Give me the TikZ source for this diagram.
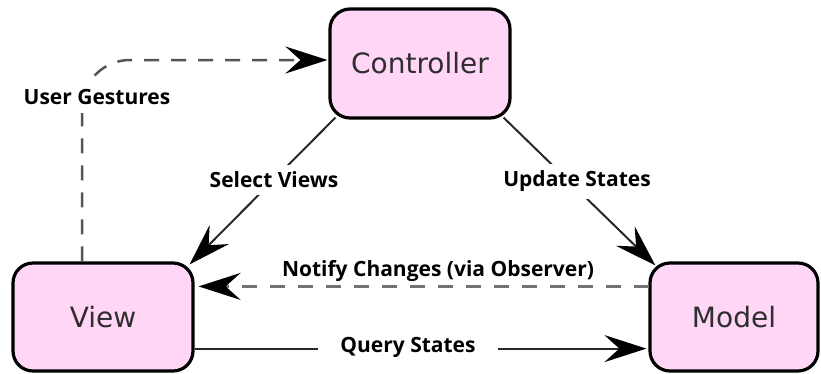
\documentclass[tikz,border=0pt]{standalone}
\usepackage{fontspec}
\usetikzlibrary{arrows.meta,calc}
\newfontfamily\boxfont{DejaVu Sans}
\newfontfamily\labfont{Open Sans}
\definecolor{boxpink}{RGB}{255,214,245}
\definecolor{inkgray}{RGB}{40,40,40}
\definecolor{dashgray}{RGB}{85,85,85}
\definecolor{obsgray}{RGB}{115,115,115}
\begin{document}
\begin{tikzpicture}[x=1pt,y=1pt,
  block/.style={draw=black, line width=3.2pt, fill=boxpink, rounded corners=20pt,
    minimum height=108pt, inner sep=0pt,
    font=\boxfont\fontsize{28}{32}\selectfont, text=black!82},
  lab/.style={font=\labfont\bfseries\fontsize{21}{24}\selectfont, text=black,
    inner sep=2pt},
  gap/.style={fill=white, inner xsep=14pt, inner ysep=6pt},
  tip/.style={-{Stealth[length=42pt,width=27pt,inset=15pt,color=black]}},
  conn/.style={line width=2pt, draw=inkgray},
  dashconn/.style={line width=2.5pt, draw=dashgray, dash pattern=on 15pt off 12pt},
  obsconn/.style={line width=2.5pt, draw=obsgray, dash pattern=on 15pt off 13pt}
]
\useasboundingbox (0,0) rectangle (821,-373);

% the three components
\node[block, minimum width=180pt, minimum height=109pt] (ctrl) at (420,-63.5) {Controller};
\node[block, minimum width=180pt] (view) at (103,-317) {View};
\node[block, minimum width=168pt] (model) at (734,-317) {Model};

% user gestures: view up and round into the controller
\coordinate (ugstart) at ($(view.north)+(-21pt,0)$);
\draw[dashconn, tip, rounded corners=48pt] (ugstart) |- ($(ctrl.west)+(-1pt,3.5pt)$);
\node[lab, gap, inner xsep=4pt, inner ysep=8pt] (uglab) at (97,-97) {User Gestures};

% controller selects the view
\draw[conn, tip] ($(ctrl.south west)+(7pt,2pt)$) -- ($(view.north east)+(-5pt,-3pt)$);
\node[lab, gap, inner xsep=4pt, inner ysep=7pt] (svlab) at (274,-180) {Select Views};

% controller updates the model
\draw[conn, tip] ($(ctrl.south east)+(-8pt,2pt)$) -- ($(model.north west)+(7pt,-4pt)$);
\node[lab, gap, inner xsep=4pt, inner ysep=7pt] (uslab) at (577,-181) {Update States};

% model notifies the view
\draw[obsconn, tip] ($(model.north west)+(1pt,-25pt)$) -- ($(view.north east)+(4pt,-25pt)$);
\node[lab] (nclab) at (438,-271) {Notify Changes (via Observer)};

% view queries the model
\draw[conn, tip] ($(view.south east)+(0,24pt)$) -- ($(model.south west)+(-2pt,24pt)$);
\node[lab, gap, inner xsep=22pt] (qslab) at (408,-347) {Query States};
\end{tikzpicture}
\end{document}
